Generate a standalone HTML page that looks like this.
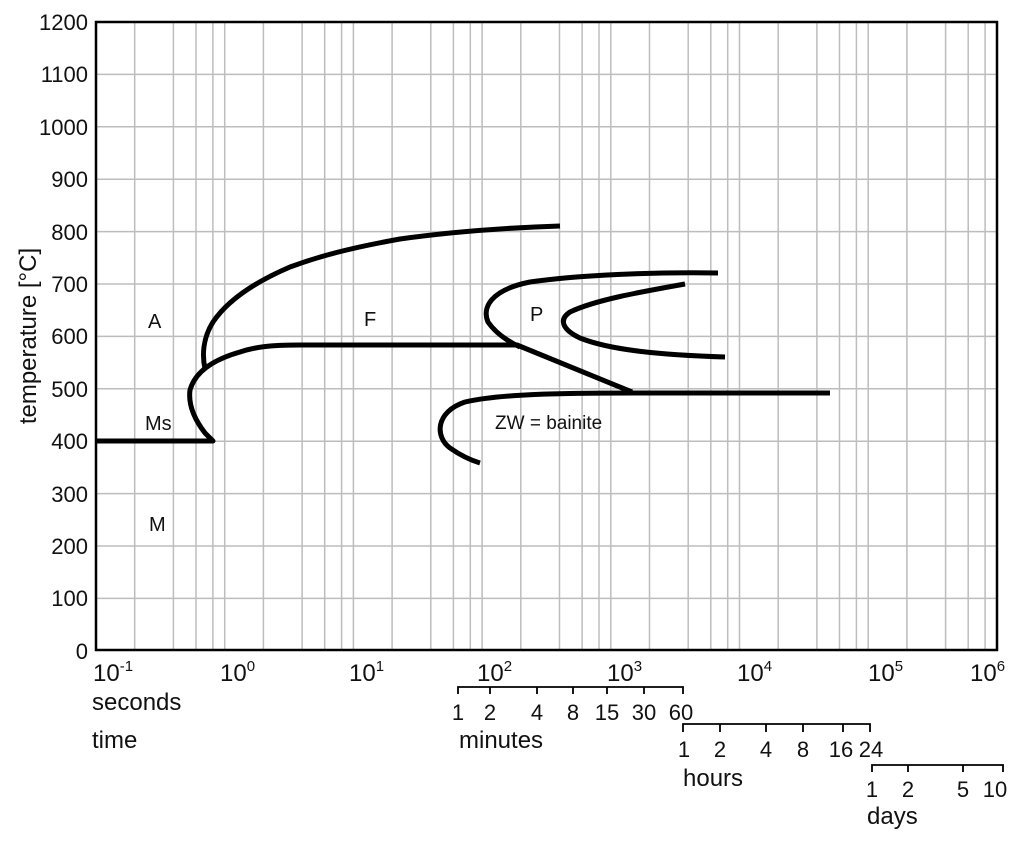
<!DOCTYPE html>
<html><head><meta charset="utf-8"><style>
html,body{margin:0;padding:0;background:#fff;}
svg{display:block;}
.t{font-family:"Liberation Sans Narrow","Liberation Sans",sans-serif;font-size:22px;fill:#111;}
.l{font-family:"Liberation Sans",sans-serif;font-size:24px;fill:#111;}
.s{font-family:"Liberation Sans",sans-serif;font-size:20px;fill:#111;}
</style></head><body>
<svg width="1024" height="845" viewBox="0 0 1024 845" xmlns="http://www.w3.org/2000/svg">
<g stroke="#bdbdbd" stroke-width="1.5" fill="none">
<path d="M96 74.4H997M96 126.8H997M96 179.2H997M96 231.6H997M96 284H997M96 336.4H997M96 388.8H997M96 441.2H997M96 493.6H997M96 546H997M96 598.4H997"/>
<path d="M134.7 22V650M173.4 22V650M196 22V650M212.9 22V650M224.7 22V650
M263.4 22V650M302.1 22V650M324.7 22V650M341.6 22V650M353.4 22V650
M392.1 22V650M430.8 22V650M453.4 22V650M470.3 22V650M482.1 22V650
M520.8 22V650M559.5 22V650M582.1 22V650M599 22V650M610.8 22V650
M649.5 22V650M688.2 22V650M710.8 22V650M727.7 22V650M739.5 22V650
M778.2 22V650M816.9 22V650M839.5 22V650M856.4 22V650M868.2 22V650
M906.9 22V650M945.6 22V650M968.2 22V650M985.1 22V650"/>
</g>
<rect x="96" y="22" width="901" height="628" fill="none" stroke="#000" stroke-width="2.5"/>
<g class="t" text-anchor="end">
<text x="88" y="30">1200</text><text x="88" y="82">1100</text><text x="88" y="135">1000</text>
<text x="88" y="187">900</text><text x="88" y="240">800</text><text x="88" y="292">700</text>
<text x="88" y="344">600</text><text x="88" y="397">500</text><text x="88" y="449">400</text>
<text x="88" y="502">300</text><text x="88" y="554">200</text><text x="88" y="606">100</text>
<text x="88" y="659">0</text>
</g>
<g class="t" font-size="24">
<text x="93" y="681" font-size="24">10<tspan font-size="15" dy="-10">-1</tspan></text>
<text x="220" y="681" font-size="24">10<tspan font-size="15" dy="-10">0</tspan></text>
<text x="349" y="681" font-size="24">10<tspan font-size="15" dy="-10">1</tspan></text>
<text x="477" y="681" font-size="24">10<tspan font-size="15" dy="-10">2</tspan></text>
<text x="607" y="681" font-size="24">10<tspan font-size="15" dy="-10">3</tspan></text>
<text x="737" y="681" font-size="24">10<tspan font-size="15" dy="-10">4</tspan></text>
<text x="868" y="681" font-size="24">10<tspan font-size="15" dy="-10">5</tspan></text>
<text x="970" y="681" font-size="24">10<tspan font-size="15" dy="-10">6</tspan></text>
</g>
<text class="l" transform="translate(36,336) rotate(-90)" text-anchor="middle">temperature [°C]</text>
<text class="l" x="92" y="710">seconds</text>
<text class="l" x="92" y="748">time</text>
<text class="l" x="459" y="748">minutes</text>
<text class="l" x="683" y="786">hours</text>
<text class="l" x="867" y="824">days</text>
<g stroke="#000" stroke-width="1.8" fill="none">
<path d="M458 694V687H683V694M490 687V694M537 687V694M573 687V694M607 687V694M644 687V694"/>
<path d="M683 732V724H870V732M720 724V732M766 724V732M803 724V732M843 724V732"/>
<path d="M872 772V765H1003V772M908 765V772M963 765V772"/>
</g>
<g class="t" text-anchor="middle" font-size="23">
<text x="458" y="720">1</text><text x="490" y="720">2</text><text x="537" y="720">4</text><text x="573" y="720">8</text><text x="607" y="720">15</text><text x="644" y="720">30</text><text x="681" y="720">60</text>
<text x="684" y="757">1</text><text x="720" y="757">2</text><text x="766" y="757">4</text><text x="803" y="757">8</text><text x="841" y="757">16</text><text x="871" y="757">24</text>
<text x="872" y="797">1</text><text x="908" y="797">2</text><text x="963" y="797">5</text><text x="995" y="797">10</text>
</g>
<g stroke="#000" stroke-width="5" fill="none" stroke-linejoin="round">
<path d="M96 441H213L205 433C195 420 188 405 190 390C195 372 212 360 240 352C255 347 270 345 300 345H517L632 392"/>
<path d="M205 369C202 355 203 338 213 322C228 300 255 282 290 267C320 256 350 248 400 239C450 232 500 228 560 226"/>
<path d="M718 273C650 272 580 275 530 282C490 290 482 308 488 322C495 332 505 340 520 347"/>
<path d="M685 284C640 292 595 300 570 312C558 320 563 330 580 338C610 350 660 355 725 357"/>
<path d="M632 393H830M632 393C560 393 500 394 465 402C435 412 435 437 450 448C460 455 470 460 480 463"/>
</g>
<g class="s">
<text x="148" y="328">A</text>
<text x="364" y="326">F</text>
<text x="530" y="321">P</text>
<text x="145" y="430">Ms</text>
<text x="149" y="531">M</text>
<text x="495" y="429" font-size="19">ZW = bainite</text>
</g>
</svg>
</body></html>
